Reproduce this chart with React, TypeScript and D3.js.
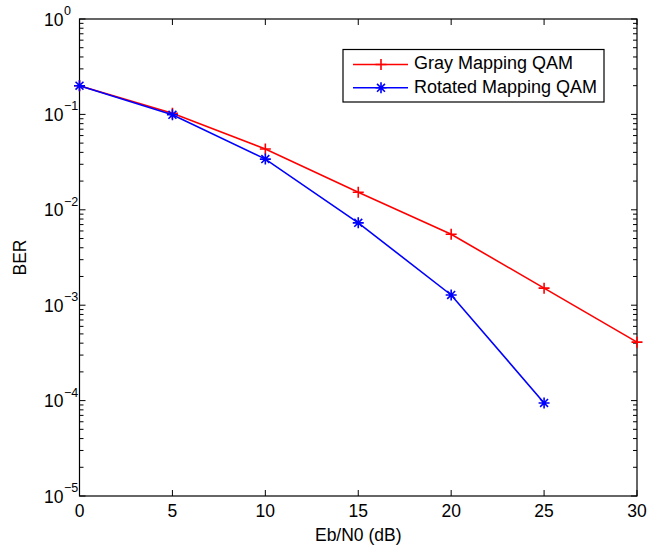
import * as d3 from "d3";
import React from "react";

const ebN0 = [0, 5, 10, 15, 20, 25, 30];
const grayBer = [0.2, 0.103, 0.0434, 0.0153, 0.00555, 0.00151, 0.00041];
const rotatedBer = [0.2, 0.099, 0.034, 0.0073, 0.00128, 0.0000945];
const xTicks = [0, 5, 10, 15, 20, 25, 30];
const yExponents = [0, -1, -2, -3, -4, -5];
const seriesNames = ["Gray Mapping QAM", "Rotated Mapping QAM"];

const W = 664;
const H = 547;
const FONT = "'Liberation Sans', Arial, Helvetica, sans-serif";

export default function App() {
	const svgRef = React.useRef<SVGSVGElement>(null);

	React.useEffect(() => {
		if (!svgRef.current) return;
		const svg = d3.select(svgRef.current);
		svg.selectAll("*").remove();

		const margins = { top: 19, right: 27, bottom: 51, left: 79.5 };
		const x = d3
			.scaleLinear()
			.domain([0, 30])
			.range([margins.left, W - margins.right]);
		const y = d3
			.scaleLog()
			.domain([1e-5, 1])
			.range([H - margins.bottom, margins.top]);

		const [x0, x1] = x.range();
		const [y0, y1] = y.range();

		// frame
		svg
			.append("rect")
			.attr("x", x0)
			.attr("y", y1)
			.attr("width", x1 - x0)
			.attr("height", y0 - y1)
			.attr("fill", "white")
			.attr("stroke", "black")
			.attr("stroke-width", 1.2);

		// x ticks, inward on top and bottom
		xTicks.forEach((t) => {
			const px = x(t);
			svg.append("line").attr("x1", px).attr("x2", px).attr("y1", y0).attr("y2", y0 - 6)
				.attr("stroke", "black");
			svg.append("line").attr("x1", px).attr("x2", px).attr("y1", y1).attr("y2", y1 + 6)
				.attr("stroke", "black");
			svg
				.append("text")
				.attr("x", px)
				.attr("y", y0 + 16)
				.attr("text-anchor", "middle")
				.attr("dominant-baseline", "middle")
				.attr("font-family", FONT)
				.attr("font-size", 17.5)
				.text(String(t));
		});

		// y ticks: majors with labels, minors 2..9
		yExponents.forEach((e) => {
			const v = Math.pow(10, e);
			const py = y(v);
			svg.append("line").attr("x1", x0).attr("x2", x0 + 6).attr("y1", py).attr("y2", py)
				.attr("stroke", "black");
			svg.append("line").attr("x1", x1).attr("x2", x1 - 6).attr("y1", py).attr("y2", py)
				.attr("stroke", "black");
			svg
				.append("text")
				.attr("x", x0 - 16)
				.attr("y", py + 6.5)
				.attr("text-anchor", "end")
				.attr("font-family", FONT)
				.attr("font-size", 17.5)
				.text("10");
			svg
				.append("text")
				.attr("x", x0 - 15.5)
				.attr("y", py - 4)
				.attr("text-anchor", "start")
				.attr("font-family", FONT)
				.attr("font-size", 12.5)
				.text(e === 0 ? "0" : "\u2212" + String(-e));
			if (e > -5) {
				for (let m = 2; m <= 9; m++) {
					const pm = y((m * v) / 10);
					svg.append("line").attr("x1", x0).attr("x2", x0 + 4).attr("y1", pm).attr("y2", pm)
						.attr("stroke", "black");
					svg.append("line").attr("x1", x1).attr("x2", x1 - 4).attr("y1", pm).attr("y2", pm)
						.attr("stroke", "black");
				}
			}
		});

		// axis titles
		svg
			.append("text")
			.attr("x", (x0 + x1) / 2)
			.attr("y", y0 + 40)
			.attr("text-anchor", "middle")
			.attr("dominant-baseline", "middle")
			.attr("font-family", FONT)
			.attr("font-size", 17.5)
			.text("Eb/N0 (dB)");
		svg
			.append("text")
			.attr("transform", `translate(21, ${(y0 + y1) / 2}) rotate(-90)`)
			.attr("text-anchor", "middle")
			.attr("dominant-baseline", "middle")
			.attr("font-family", FONT)
			.attr("font-size", 17.5)
			.text("BER");

		const line = d3
			.line<number>()
			.x((_, i) => x(ebN0[i]))
			.y((d) => y(d));

		const plus = (g: d3.Selection<SVGGElement, unknown, null, undefined>, cx: number, cy: number, color: string) => {
			const s = 5.5;
			g.append("path")
				.attr("d", `M${cx - s},${cy}H${cx + s}M${cx},${cy - s}V${cy + s}`)
				.attr("stroke", color)
				.attr("stroke-width", 1.6)
				.attr("fill", "none");
		};
		const star = (g: d3.Selection<SVGGElement, unknown, null, undefined>, cx: number, cy: number, color: string) => {
			const s = 5.5;
			const d = s * 0.72;
			g.append("path")
				.attr(
					"d",
					`M${cx - s},${cy}H${cx + s}M${cx},${cy - s}V${cy + s}` +
						`M${cx - d},${cy - d}L${cx + d},${cy + d}M${cx - d},${cy + d}L${cx + d},${cy - d}`,
				)
				.attr("stroke", color)
				.attr("stroke-width", 1.6)
				.attr("fill", "none");
		};

		const series = [
			{ values: grayBer, color: "#ff0000", marker: plus },
			{ values: rotatedBer, color: "#0000ff", marker: star },
		];

		const plotG = svg.append("g");
		series.forEach((s) => {
			plotG
				.append("path")
				.attr("d", line(s.values))
				.attr("fill", "none")
				.attr("stroke", s.color)
				.attr("stroke-width", 1.6);
			s.values.forEach((v, i) => s.marker(plotG, x(ebN0[i]), y(v), s.color));
		});

		// legend
		const lg = svg.append("g");
		lg.append("rect")
			.attr("x", 343)
			.attr("y", 49.5)
			.attr("width", 261)
			.attr("height", 52.5)
			.attr("fill", "white")
			.attr("stroke", "black")
			.attr("stroke-width", 1.2);
		series.forEach((s, i) => {
			const ly = 64.5 + i * 23.3;
			lg.append("line")
				.attr("x1", 353)
				.attr("x2", 408)
				.attr("y1", ly)
				.attr("y2", ly)
				.attr("stroke", s.color)
				.attr("stroke-width", 1.6);
			s.marker(lg, 381, ly, s.color);
			lg.append("text")
				.attr("x", 414)
				.attr("y", ly)
				.attr("dominant-baseline", "middle")
				.attr("font-family", FONT)
				.attr("font-size", 18)
				.text(seriesNames[i]);
		});
	}, []);

	return (
		<svg
			ref={svgRef}
			width={W}
			height={H}
			style={{ position: "absolute", left: 0, top: 0, background: "white" }}
		/>
	);
}
